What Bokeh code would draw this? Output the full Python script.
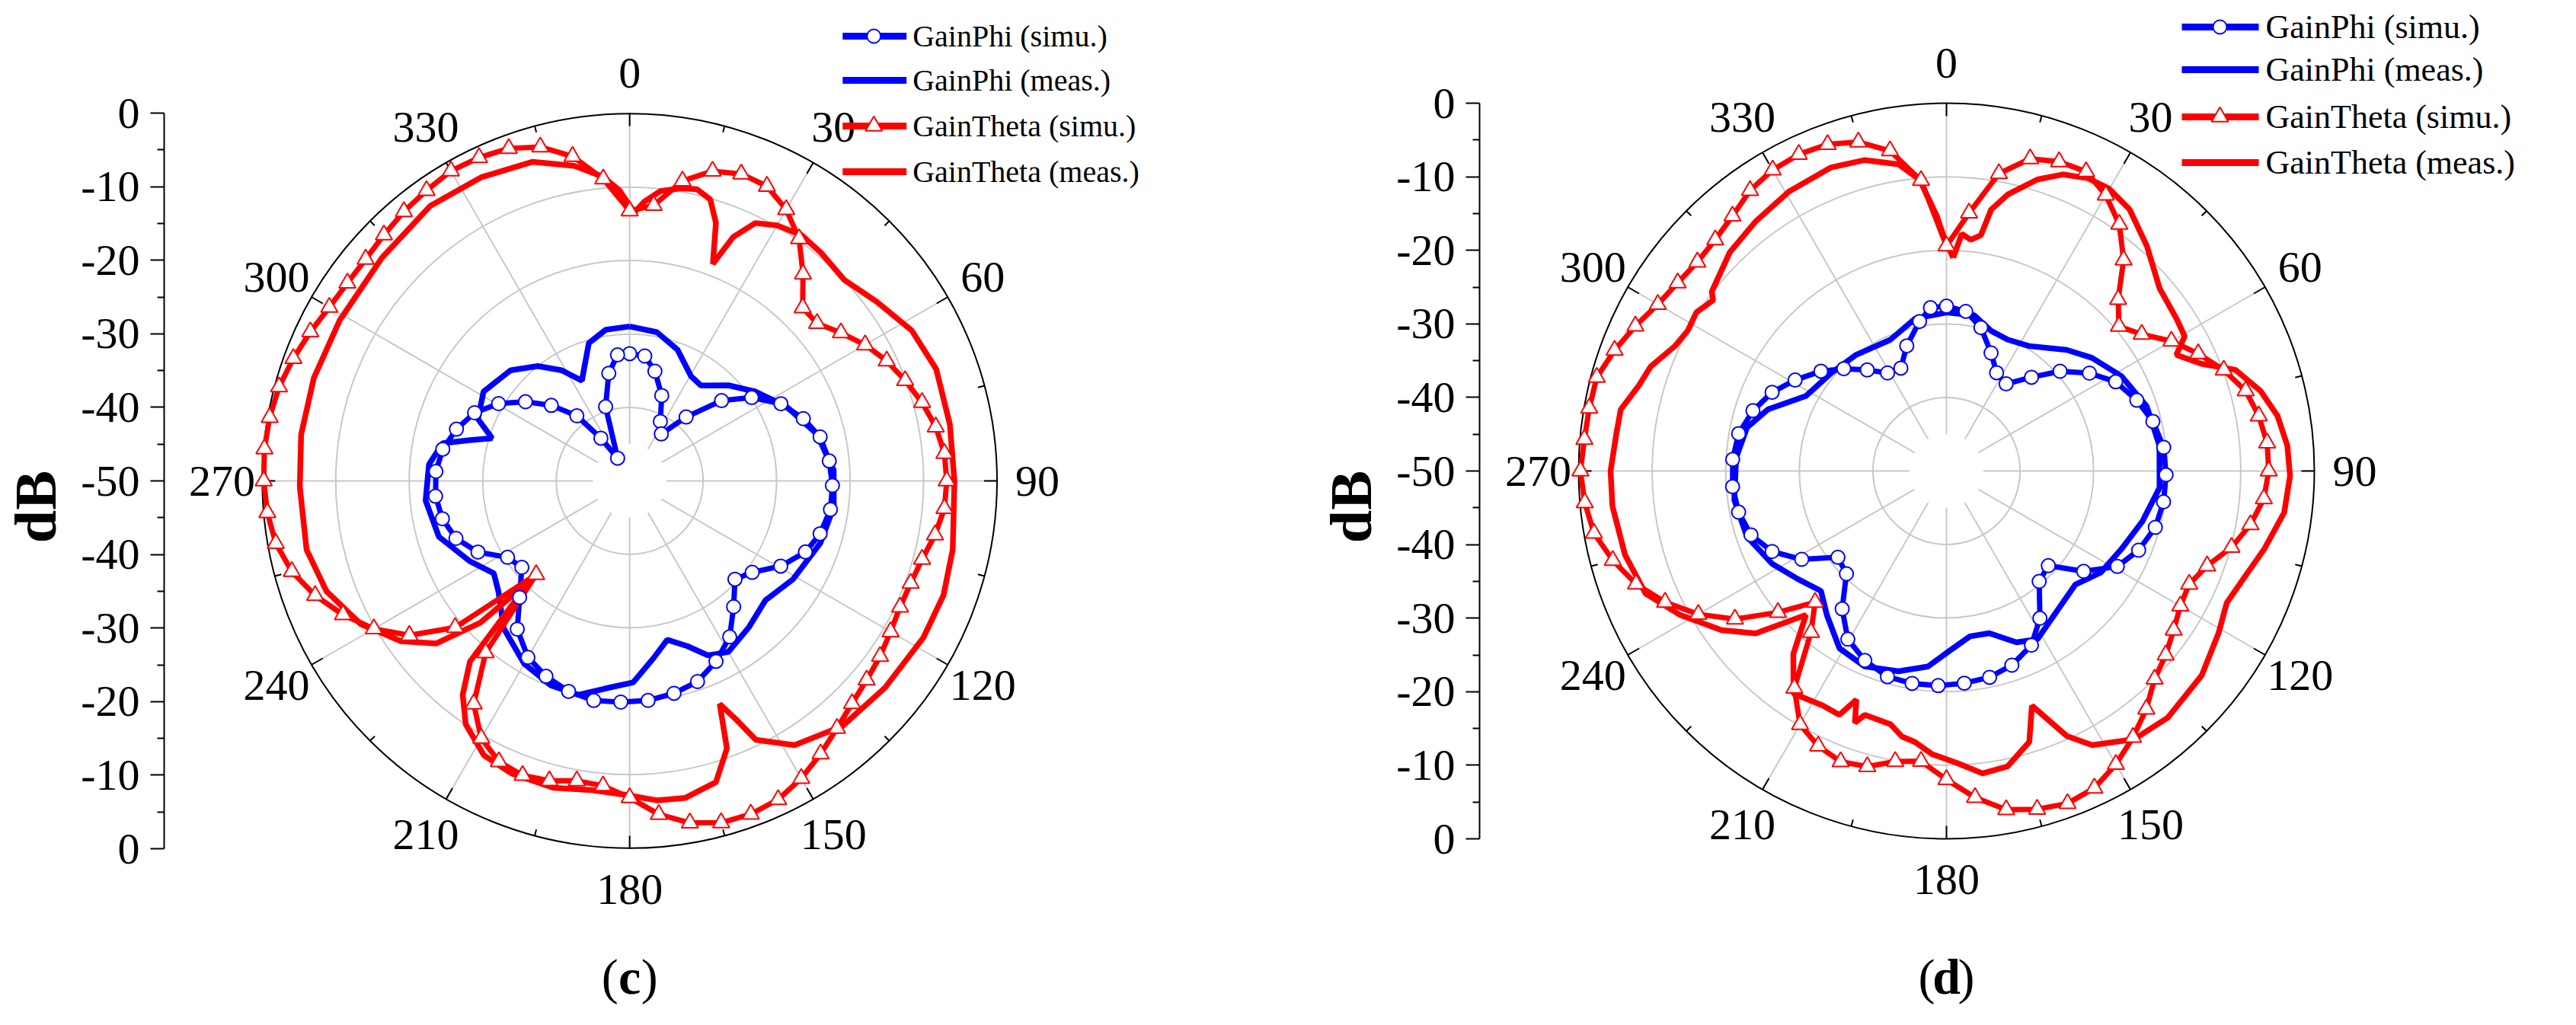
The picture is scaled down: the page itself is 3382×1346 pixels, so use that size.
import numpy as np
from bokeh.plotting import figure
from bokeh.layouts import row
from bokeh.models import Range1d, LinearAxis, FixedTicker, CustomJSTickFormatter
from bokeh.core.properties import value
from bokeh.embed import file_html
from bokeh.resources import INLINE

# ---------------- data (angle in degrees clockwise from top, gain in dB) ----------------
ANGLE_LABELS = ["0", "30", "60", "90", "120", "150", "180", "210", "240", "270", "300", "330"]
LEGEND_NAMES = ["GainPhi (simu.)", "GainPhi (meas.)", "GainTheta (simu.)", "GainTheta (meas.)"]

SIM_THETA_ANG = list(range(0, 360, 5))

# panel (c)
C_TH_SIM_DB = [-13.3, -12.4, -8.6, -6.4, -5.6, -5.8, -7.4, -9.8, -13.3, -16.7, -16.7, -14.9,
               -13.0, -11.4, -10.1, -8.8, -7.7, -7.0, -6.85, -7.0, -7.8, -8.8, -9.3, -9.4,
               -9.0, -8.4, -7.9, -7.2, -6.1, -4.7, -3.3, -2.2, -1.8, -1.9, -2.8, -4.5,
               -6.95, -8.4, -8.6, -7.8, -7.4, -7.9, -9.6, -13.0, -19.5, -32.0, -19.0, -13.4,
               -9.8, -6.95, -4.45, -2.4, -1.1, -0.5, -0.2, -0.1, -0.25, -0.6, -1.3, -2.05,
               -2.8, -3.1, -3.1, -2.7, -2.2, -1.8, -1.35, -1.5, -1.9, -3.0, -5.2, -8.8]

C_TH_MEAS_ANG = [1, 3, 6, 10, 13, 16, 18.5, 21, 23, 26, 30, 35, 40, 47, 54, 62, 70, 80, 90, 102,
                 110, 118, 129, 139, 148, 154, 156, 158, 160, 164, 170, 175, 181, 187, 194, 202,
                 208, 214, 218, 221.5, 225, 226.5, 230, 235, 242, 250, 258, 269, 278, 288, 299,
                 312, 324, 334, 343, 350, 355, 358]
C_TH_MEAS_DB = [-13.5, -12.0, -10.4, -9.6, -9.3, -10.2, -13.0, -18.4, -14.0, -11.0, -9.9, -9.2,
                -9.5, -10.0, -8.5, -6.5, -5.6, -5.75, -5.8, -5.05, -4.55, -4.7, -5.3, -5.85,
                -7.65, -10.85, -14.6, -17.3, -11.3, -7.4, -6.25, -6.4, -7.35, -7.65, -7.0, -7.1,
                -7.75, -10.1, -13.1, -17.2, -31.0, -22.0, -15.6, -12.0, -8.55, -6.1, -5.05, -5.1,
                -4.85, -4.8, -4.9, -4.65, -3.8, -4.05, -4.65, -6.5, -8.5, -10.5]

C_PHI_SIM_ANG = [0, 6.9, 13, 20.6, 27.3, 34, 41.5, 48.9, 55.7, 63, 70.3, 77, 84.3, 91.3, 98.1,
                 105.5, 112, 119.4, 126.7, 133, 140.4, 147.3, 154.4, 161.3, 168.2, 175.2, 182.3,
                 189.3, 196.2, 203.2, 210, 217.2, 223.4, 231.3, 238, 244.9, 251.7, 258.6, 265.5,
                 272.8, 279.6, 286.6, 293.7, 300.5, 307.2, 313.9, 320.9, 326, 332, 342, 349, 354.5]
C_PHI_SIM_DB = [-32.7, -32.9, -34.7, -37.6, -40.9, -42.3, -38.4, -33.4, -29.9, -26.9, -24.9,
                -23.4, -22.7, -22.4, -22.4, -23.1, -24.2, -26.4, -29.2, -30.4, -27.8, -24.8,
                -22.8, -21.2, -20.5, -20.05, -19.9, -19.75, -20.2, -21.1, -22.3, -24.7, -28.2,
                -31.2, -30.4, -27.2, -25.1, -24.0, -23.5, -23.6, -24.2, -25.4, -26.95, -29.3,
                -32.2, -35.2, -38.6, -43.0, -46.5, -39.4, -35.1, -32.8]

C_PHI_MEAS_ANG = [0, 10.4, 20, 30.4, 36.8, 46, 54.7, 64.6, 75.9, 87, 97.2, 108, 121, 131.3, 141,
                  150, 155.8, 160.7, 166.7, 172.3, 179, 186.6, 193.4, 201, 210, 220.6, 229.9,
                  235.8, 243.4, 253.7, 264.5, 274.7, 281.4, 284.3, 287.2, 292.2, 301.4, 312.9,
                  321.3, 328.4, 334.5, 343.5, 351]
C_PHI_MEAS_DB = [-29.0, -29.45, -31.0, -33.5, -33.8, -31.3, -29.0, -26.4, -23.75, -22.2, -22.0,
                 -22.7, -24.05, -25.4, -24.3, -23.15, -24.0, -26.2, -27.8, -25.7, -22.6, -21.6,
                 -20.1, -20.2, -21.3, -23.65, -26.65, -27.65, -25.65, -22.95, -22.1, -22.6,
                 -24.05, -27.55, -30.4, -27.7, -26.7, -27.9, -30.0, -32.35, -34.9, -30.45, -29.2]

# panel (d)
D_TH_SIM_DB = [-19.4, -14.8, -8.95, -6.05, -5.25, -5.1, -6.7, -9.05, -12.55, -17.0, -19.4, -17.6,
               -14.7, -12.25, -9.9, -7.9, -6.9, -6.25, -6.2, -6.7, -8.05, -9.9, -12.3, -13.6,
               -13.3, -12.3, -11.1, -10.0, -7.75, -5.8, -3.95, -2.45, -1.9, -2.4, -3.25, -5.45,
               -8.05, -10.4, -9.9, -8.4, -7.95, -8.75, -10.2, -13.95, -21.35, -24.75, -20.1, -14.9,
               -11.05, -7.8, -5.1, -3.05, -1.35, -0.65, -0.25, -0.6, -0.7, -0.8, -2.0, -3.35,
               -4.7, -5.4, -5.8, -5.55, -4.75, -3.45, -2.75, -2.5, -2.75, -3.7, -5.8, -10.35]

D_TH_MEAS_ANG = [1.8, 3.7, 6, 8.3, 9.7, 12.5, 17.3, 21.4, 25.8, 29.9, 35, 41.7, 49.4, 56.5, 60.5,
                 63.2, 67.2, 70.7, 75.7, 80.5, 85.7, 90.8, 97, 103.7, 109.9, 115.2, 120.8, 128.7,
                 138.1, 145, 152, 155.6, 160, 163, 168.3, 173.2, 177.8, 182.9, 186.6, 189.5,
                 192.5, 198.5, 200, 201.5, 203.7, 207.8, 214.5, 219.9, 224.3, 229.6, 234.7, 241.7,
                 247.8, 255.4, 264, 270, 276.5, 280.7, 285.5, 289.4, 294.8, 298.5, 302.4, 306.2,
                 307.4, 315.3, 322.6, 330.6, 339.2, 345.3, 351.1, 354.7, 357.8, 359.6]
D_TH_MEAS_DB = [-21.0, -17.7, -18.4, -17.6, -13.95, -11.5, -8.5, -6.7, -5.8, -5.7, -6.6, -9.05,
                -11.85, -12.5, -12.8, -15.0, -12.4, -8.4, -5.95, -4.4, -3.55, -3.3, -3.75, -5.5,
                -7.05, -7.9, -6.95, -5.55, -4.95, -5.5, -7.8, -10.45, -16.05, -11.5, -9.0, -8.6,
                -10.25, -11.45, -12.9, -13.4, -14.75, -15.05, -13.6, -16.6, -13.8, -13.95, -13.3,
                -17.55, -22.65, -15.95, -12.55, -8.8, -5.85, -4.85, -4.35, -4.35, -4.85, -4.95,
                -6.6, -7.35, -9.4, -10.0, -9.75, -10.7, -9.85, -8.15, -7.3, -6.4, -5.85, -6.3,
                -7.8, -10.2, -15.25, -18.6]

D_PHI_SIM_ANG = [0, 6.9, 13.5, 20.7, 27, 34.4, 42.2, 48.7, 55.6, 62.2, 69.6, 76.5, 83.8, 91, 98.1,
                 105.1, 112.4, 119.2, 126.2, 132.9, 140, 147.6, 154, 161.4, 168.2, 175.2, 182.2,
                 189.2, 196, 203.3, 210.4, 217.1, 224.2, 231.5, 238.6, 245.2, 251.9, 258.8, 265.8,
                 273.1, 280.2, 287.3, 294.3, 301, 308.5, 314.9, 321.9, 329, 336.1, 342.4, 349.8,
                 354.4]
D_PHI_SIM_DB = [-27.6, -28.15, -29.95, -32.85, -35.0, -35.65, -32.8, -29.45, -26.45, -24.0, -22.4,
                -21.15, -20.3, -20.15, -20.2, -20.6, -21.75, -23.4, -26.9, -31.1, -30.4, -26.3,
                -23.65, -22.15, -21.35, -21.05, -20.8, -20.75, -20.9, -21.95, -23.5, -26.5, -30.5,
                -31.15, -26.95, -23.9, -22.05, -21.2, -20.85, -20.9, -21.3, -22.45, -24.0, -26.0,
                -28.2, -30.3, -32.55, -34.45, -34.7, -32.15, -29.35, -27.7]

D_PHI_MEAS_ANG = [0, 10.1, 17.6, 25, 33.4, 44.8, 52.1, 61.5, 72.1, 83.2, 94.5, 104.4, 113.9, 123.4,
                  131.4, 141, 151.6, 157.8, 165.2, 171.9, 179.2, 185.4, 193.5, 202.7, 211.1,
                  219.7, 226.3, 234.1, 242, 251.8, 262.2, 273.6, 282.3, 289.1, 298.1, 310.4,
                  322.2, 336.8, 348.4]
D_PHI_MEAS_DB = [-28.45, -28.5, -30.0, -30.3, -29.65, -26.8, -24.95, -22.95, -21.4, -20.85, -20.95,
                 -22.5, -23.95, -24.9, -26.65, -25.85, -24.0, -24.85, -27.2, -27.3, -25.5, -23.3,
                 -22.0, -21.2, -21.85, -24.55, -26.4, -25.0, -23.15, -21.45, -20.9, -21.35, -22.25,
                 -24.35, -28.35, -29.45, -30.0, -30.6, -28.85]

# ---------------- layout constants (pixels of the page) ----------------
R_PX = 483.0
S = R_PX / 50.0          # pixels per dB
FIG_H = 1330
FONT = "Liberation Serif"
BLUE = "#0000ff"
RED = "#ff0000"
GRID = "#c8c8c8"


def polar(ang, db, close=True):
    a = list(ang)
    d = list(db)
    if close:
        a = a + [a[0] + 360]
        d = d + [d[0]]
    a = np.radians(np.asarray(a, float))
    r = np.clip(np.asarray(d, float) + 50.0, 0, None)
    return r * np.sin(a), r * np.cos(a)


def build(letter, left_img, fig_w, axis_img, cx, cy, leg, data):
    px = lambda X: (X - cx) / S
    py = lambda Y: (cy - Y) / S
    p = figure(width=fig_w, height=FIG_H, output_backend="svg", toolbar_location=None,
               x_range=Range1d(px(axis_img), px(left_img + fig_w)),
               y_range=Range1d(py(8 + FIG_H), py(8)),
               x_axis_location=None, y_axis_location=None,
               min_border_left=axis_img - left_img, min_border_right=0,
               min_border_top=0, min_border_bottom=0)
    p.outline_line_color = None
    p.background_fill_color = "white"
    p.border_fill_color = "white"
    p.xgrid.visible = False
    p.ygrid.visible = False

    # radial axis
    ax = LinearAxis(bounds=(-50, 50),
                    ticker=FixedTicker(ticks=list(range(-50, 51, 10)),
                                       minor_ticks=list(range(-45, 50, 10))),
                    formatter=CustomJSTickFormatter(code="return String(Math.abs(tick) - 50)"))
    ax.axis_line_width = 2
    ax.axis_line_color = "black"
    ax.major_tick_line_width = 2
    ax.minor_tick_line_width = 2
    ax.major_tick_out = 18
    ax.major_tick_in = 0
    ax.minor_tick_out = 9
    ax.minor_tick_in = 0
    ax.major_label_standoff = 14
    ax.major_label_text_font = FONT
    ax.major_label_text_font_size = "58px"
    ax.major_label_text_color = "black"
    ax.axis_label = "dB"
    ax.axis_label_text_font = FONT
    ax.axis_label_text_font_size = "78px"
    ax.axis_label_text_font_style = "bold"
    ax.axis_label_text_color = "black"
    ax.axis_label_standoff = 13
    p.add_layout(ax, "left")

    # grid rings
    ring_r = [10, 20, 30, 40]
    p.circle(x=[0] * 4, y=[0] * 4, radius=ring_r, fill_color=None, line_color=GRID, line_width=2)
    spoke_ang = np.radians(np.arange(0, 360, 30))
    p.segment(x0=5 * np.sin(spoke_ang), y0=5 * np.cos(spoke_ang),
              x1=50 * np.sin(spoke_ang), y1=50 * np.cos(spoke_ang),
              line_color=GRID, line_width=2)
    p.circle(x=[0], y=[0], radius=[50], fill_color=None, line_color="black", line_width=2)
    tk = 17 / S
    p.segment(x0=50 * np.sin(spoke_ang), y0=50 * np.cos(spoke_ang),
              x1=(50 - tk) * np.sin(spoke_ang), y1=(50 - tk) * np.cos(spoke_ang),
              line_color="black", line_width=2)
    mk = 9 / S
    mang = spoke_ang + np.radians(15)
    p.segment(x0=50 * np.sin(mang), y0=50 * np.cos(mang),
              x1=(50 - mk) * np.sin(mang), y1=(50 - mk) * np.cos(mang),
              line_color="black", line_width=2)

    lab_r = 536 / S
    p.text(x=lab_r * np.sin(spoke_ang), y=lab_r * np.cos(spoke_ang), text=ANGLE_LABELS,
           text_font=value(FONT), text_font_size="58px", text_align="center",
           text_baseline="middle", text_color="black")

    (phi_sim, phi_meas, th_sim, th_meas) = data
    x, y = polar(*phi_meas)
    p.line(x, y, line_color=BLUE, line_width=7.5)
    x, y = polar(*phi_sim)
    p.line(x, y, line_color=BLUE, line_width=7)
    xs, ys = polar(*th_sim)
    p.line(xs, ys, line_color=RED, line_width=7)
    x, y = polar(*th_meas)
    p.line(x, y, line_color=RED, line_width=7.5)
    x, y = polar(*phi_sim, close=False)
    p.scatter(x, y, marker="circle", size=18, fill_color="white", line_color=BLUE, line_width=2)
    x, y = polar(*th_sim, close=False)
    p.scatter(x, y, marker="triangle", size=22, fill_color="white", line_color=RED, line_width=2)

    # legend
    lx0, lx1, lmk, ltx, rows, fsize = leg
    colors = [BLUE, BLUE, RED, RED]
    for i, name in enumerate(LEGEND_NAMES):
        yy = py(rows[i])
        p.line([px(lx0), px(lx1)], [yy, yy], line_color=colors[i], line_width=9)
        if i == 0:
            p.scatter([px(lmk)], [yy], marker="circle", size=18, fill_color="white",
                      line_color=BLUE, line_width=2)
        if i == 2:
            p.scatter([px(lmk)], [yy], marker="triangle", size=22, fill_color="white",
                      line_color=RED, line_width=2)
    p.text(x=[px(ltx)] * 4, y=[py(r) for r in rows], text=LEGEND_NAMES,
           text_font=value(FONT), text_font_size=fsize, text_align="left",
           text_baseline="middle", text_color="black")

    # panel letter
    ly = py(1290)
    p.text(x=[px(cx - 26), px(cx + 26)], y=[ly, ly], text=["(", ")"], text_font=value(FONT),
           text_font_size="66px", text_align="center", text_baseline="middle", text_color="black")
    p.text(x=[0], y=[ly], text=[letter], text_font=value(FONT), text_font_size="66px",
           text_font_style="bold", text_align="center", text_baseline="middle", text_color="black")
    return p


pc = build("c", 8, 1692, 221, 833, 639,
           (1113, 1197, 1154, 1205, [55, 113, 173, 233], "40px"),
           ((C_PHI_SIM_ANG, C_PHI_SIM_DB), (C_PHI_MEAS_ANG, C_PHI_MEAS_DB),
            (SIM_THETA_ANG, C_TH_SIM_DB), (C_TH_MEAS_ANG, C_TH_MEAS_DB)))
pd_ = build("d", 1700, 1674, 1950, 2563, 626,
            (2872, 2973, 2922, 2982, [43, 99, 161, 221], "44px"),
            ((D_PHI_SIM_ANG, D_PHI_SIM_DB), (D_PHI_MEAS_ANG, D_PHI_MEAS_DB),
             (SIM_THETA_ANG, D_TH_SIM_DB), (D_TH_MEAS_ANG, D_TH_MEAS_DB)))

layout = row(pc, pd_, spacing=0)
open("out.html", "w").write(file_html(layout, INLINE))
